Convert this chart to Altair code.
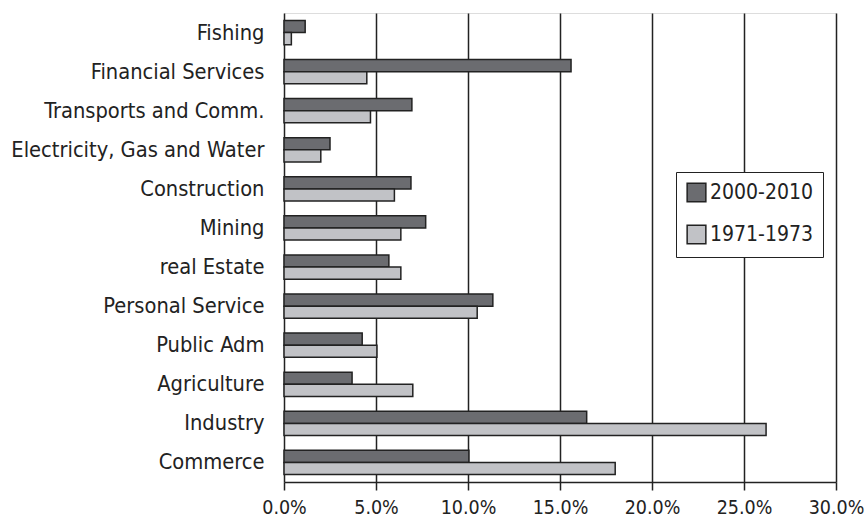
import altair as alt
import pandas as pd

categories = ["Fishing", "Financial Services", "Transports and Comm.",
              "Electricity, Gas and Water", "Construction", "Mining",
              "real Estate", "Personal Service", "Public Adm", "Agriculture",
              "Industry", "Commerce"]
series = ["2000-2010", "1971-1973"]
v_2000_2010 = [1.15, 15.6, 6.95, 2.5, 6.9, 7.7, 5.7, 11.35, 4.25, 3.7, 16.45, 10.05]
v_1971_1973 = [0.4, 4.5, 4.7, 2.0, 6.0, 6.35, 6.35, 10.5, 5.05, 7.0, 26.2, 18.0]
tick_values = [0, 0.05, 0.10, 0.15, 0.20, 0.25, 0.30]

rows = []
for c, a, b in zip(categories, v_2000_2010, v_1971_1973):
    rows.append({"cat": c, "series": series[0], "value": a / 100})
    rows.append({"cat": c, "series": series[1], "value": b / 100})
df = pd.DataFrame(rows)

FONT = "DejaVu Sans Condensed"

bars = alt.Chart(df).mark_bar(stroke="#222222", strokeWidth=1.5).encode(
    y=alt.Y("cat:N", sort=categories,
            scale=alt.Scale(paddingInner=0.38, paddingOuter=0.19),
            axis=alt.Axis(title=None, ticks=False, domain=False, labelPadding=20,
                          labelFontSize=21.7, labelFont=FONT, labelColor="#222222",
                          labelLimit=320)),
    yOffset=alt.YOffset("series:N", sort=series),
    x=alt.X("value:Q", scale=alt.Scale(domain=[0, 0.30]),
            axis=alt.Axis(title=None, format=".1%", values=tick_values,
                          grid=True, gridColor="#222222", gridWidth=1.5, gridOpacity=1,
                          domainColor="#222222", domainWidth=1.5,
                          tickColor="#222222", tickWidth=1.5, tickSize=8,
                          labelFontSize=19.5, labelFont=FONT, labelColor="#222222",
                          labelPadding=8, labelFlush=False)),
    color=alt.Color("series:N", sort=series,
                    scale=alt.Scale(domain=series, range=["#6b6c70", "#c1c2c6"]),
                    legend=alt.Legend(title=None, orient="none", legendX=392, legendY=159,
                                      symbolType="square", symbolSize=350,
                                      symbolStrokeColor="#222222", symbolStrokeWidth=1.5,
                                      labelFontSize=21, labelFont=FONT, labelColor="#222222",
                                      strokeColor="#222222", padding=10, rowPadding=17,
                                      fillColor="white", labelOffset=3)),
)

chart = bars.properties(
    width=552, height=469, autosize="none",
    padding={"left": 284, "top": 13, "right": 30, "bottom": 37},
).configure_view(stroke=None).configure(background="white")

chart.save("out.html", embed_options={"renderer": "svg", "actions": False})
